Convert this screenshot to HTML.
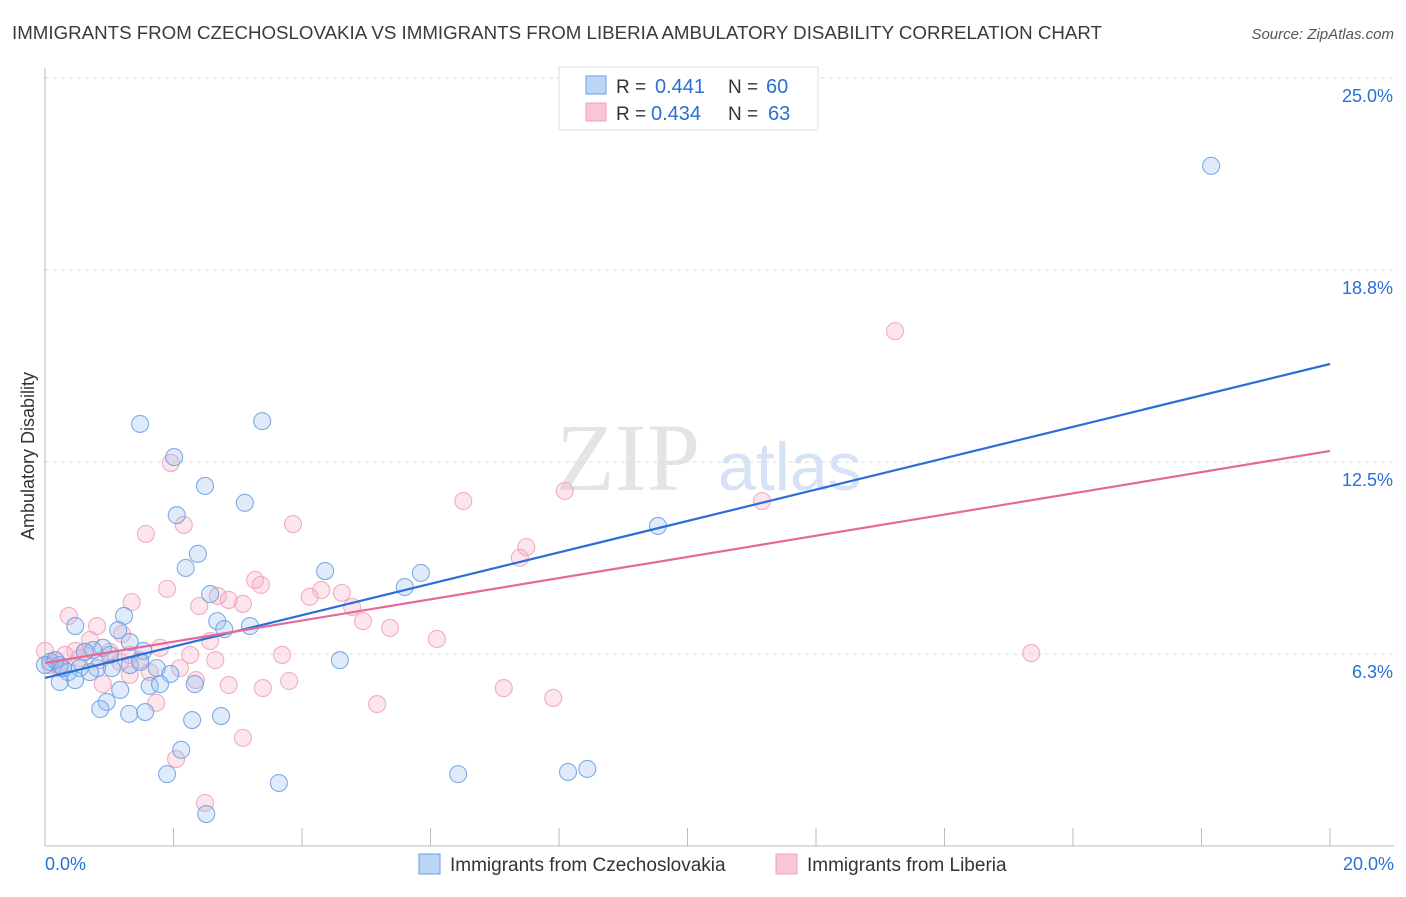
<!DOCTYPE html>
<html><head><meta charset="utf-8"><style>
body{margin:0;background:#fff;font-family:"Liberation Sans",sans-serif}
</style></head><body>
<svg id="chart" width="1406" height="892" xmlns="http://www.w3.org/2000/svg" font-family="Liberation Sans, sans-serif">
<text x="12" y="39" font-size="18" fill="#3a3a3a" textLength="1090" lengthAdjust="spacingAndGlyphs">IMMIGRANTS FROM CZECHOSLOVAKIA VS IMMIGRANTS FROM LIBERIA AMBULATORY DISABILITY CORRELATION CHART</text>
<text x="1394" y="39" font-size="15" fill="#555" text-anchor="end" font-style="italic">Source: ZipAtlas.com</text>
<g><text x="556" y="490" font-size="96" font-family="Liberation Serif, serif" fill="#e4e4e4">ZIP</text><text x="718" y="490" font-size="68" fill="#d5e3f5">atlas</text></g>
<g id="grid"></g>
<g id="axes"></g>
<g id="pts"></g>
<g id="lines"></g>
<text transform="translate(34,456) rotate(-90)" font-size="18" fill="#333" text-anchor="middle">Ambulatory Disability</text>
<g>
<rect x="559" y="67" width="259" height="63" fill="#fff" stroke="#ddd"/>
<rect x="586" y="76" width="20" height="18" fill="#bcd4f5" stroke="#6b9ee0"/>
<rect x="586" y="103" width="20" height="18" fill="#f9c6d6" stroke="#f0a0b8"/>
<text x="616" y="93" font-size="19" fill="#333">R =</text><text x="655" y="93" font-size="20" fill="#2a6fd6">0.441</text><text x="728" y="93" font-size="19" fill="#333">N =</text><text x="766" y="93" font-size="20" fill="#2a6fd6">60</text>
<text x="616" y="120" font-size="19" fill="#333">R =</text><text x="651" y="120" font-size="20" fill="#2a6fd6">0.434</text><text x="728" y="120" font-size="19" fill="#333">N =</text><text x="768" y="120" font-size="20" fill="#2a6fd6">63</text>
</g>
<g>
<rect x="419" y="854" width="21" height="20" fill="#bcd4f5" stroke="#6b9ee0"/>
<text x="450" y="871" font-size="19" fill="#333">Immigrants from Czechoslovakia</text>
<rect x="776" y="854" width="21" height="20" fill="#f9c6d6" stroke="#f0a0b8"/>
<text x="807" y="871" font-size="19" fill="#333">Immigrants from Liberia</text>
</g>
</svg>
<script>
const yTicks=[6.25,12.5,18.75,25];
const yTickLabels=["6.3%","12.5%","18.8%","25.0%"];
const xTickLabels=["0.0%","20.0%"];
const blueX=[1.48,3.38,2.01,2.49,3.11,2.05,9.54,2.38,2.19,4.36,5.85,5.60,2.57,1.23,2.68,0.47,2.79,3.19,1.14,1.32,0.90,0.75,1.53,1.01,4.59,0.08,0.23,0.54,0.81,1.04,1.32,1.74,1.95,0.36,0.47,0.23,2.33,1.63,1.79,1.17,0.96,0.86,1.31,1.56,2.29,2.74,2.12,1.90,6.43,8.14,8.44,3.64,2.51,18.15,0.16,0.0,0.62,1.48,0.28,0.70];
const blueY=[13.74,13.83,12.66,11.72,11.17,10.77,10.42,9.51,9.05,8.95,8.89,8.43,8.20,7.49,7.32,7.16,7.06,7.16,7.03,6.64,6.45,6.38,6.35,6.22,6.05,5.99,5.89,5.79,5.79,5.79,5.89,5.79,5.60,5.66,5.40,5.34,5.27,5.21,5.27,5.08,4.69,4.46,4.30,4.36,4.10,4.23,3.13,2.34,2.34,2.41,2.51,2.05,1.04,22.14,6.05,5.89,6.32,5.99,5.79,5.66];
const pinkX=[13.23,1.96,6.51,8.09,11.16,2.16,1.57,3.86,7.49,7.39,1.90,3.27,3.36,1.35,2.40,2.69,2.86,3.08,4.12,4.30,4.62,4.78,4.95,0.37,0.81,5.37,6.10,1.20,2.57,3.69,15.35,0.47,0.62,1.01,1.79,2.26,1.48,0.86,1.32,1.63,2.35,2.86,3.39,3.80,0.90,0.0,0.16,0.31,7.14,7.91,5.17,1.73,3.08,2.04,2.49,0.23,0.54,1.17,2.10,0.70,0.08,1.32,2.65];
const pinkY=[16.76,12.47,11.23,11.56,11.23,10.45,10.16,10.48,9.73,9.38,8.37,8.66,8.50,7.94,7.81,8.14,8.01,7.88,8.11,8.33,8.24,7.78,7.32,7.49,7.16,7.10,6.74,6.90,6.67,6.22,6.28,6.35,6.32,6.32,6.45,6.22,6.05,6.05,5.57,5.66,5.40,5.24,5.14,5.37,5.27,6.35,6.05,6.22,5.14,4.82,4.62,4.66,3.52,2.83,1.40,5.79,6.12,5.99,5.79,6.71,5.89,6.22,6.05];
const blueLine=[5.47,15.69];
const pinkLine=[5.96,12.86];
const NS="http://www.w3.org/2000/svg";
const X0=45,X1=1330,Y0=846,YPX=30.72;
function xs(v){return X0+v/20*(X1-X0);}
function ys(v){return Y0-v*YPX;}
function mk(tag,attrs,parent){const e=document.createElementNS(NS,tag);for(const k in attrs)e.setAttribute(k,attrs[k]);parent.appendChild(e);return e;}
const grid=document.getElementById('grid'),axes=document.getElementById('axes'),pts=document.getElementById('pts'),lines=document.getElementById('lines');
yTicks.forEach((t,i)=>{
 const l=mk('line',{x1:X0,x2:1394,y1:ys(t),y2:ys(t),stroke:'#ddd','stroke-dasharray':'4,4'},grid);
 
 
 const tx=mk('text',{x:1393,y:ys(t)+24,'font-size':18,fill:'#2a6fd6','text-anchor':'end'},axes);
 tx.textContent=yTickLabels[i];
 
 
});
const la=mk('line',{x1:X0,x2:X0,y1:68,y2:Y0,stroke:'#bbb'},axes);


const lb=mk('line',{x1:X0,x2:1394,y1:Y0,y2:Y0,stroke:'#bbb'},axes);


for(let i=0;i<=10;i++){
 const t=mk('line',{x1:xs(i*2),x2:xs(i*2),y1:828,y2:Y0,stroke:'#bbb'},axes);
 
 
}
[[0,'start',45],[20,'end',1394]].forEach((d,i)=>{
 const tx=mk('text',{x:d[2],y:870,'font-size':18,fill:'#2a6fd6','text-anchor':d[1]},axes);
 tx.textContent=xTickLabels[i];
 
 
});
function dots(X,Y,fill,stroke,name){
 X.forEach((x,i)=>{
  const c=mk('circle',{cx:xs(x),cy:ys(Y[i]),r:8.5,fill:fill,stroke:stroke,'stroke-width':1.1,'stroke-opacity':0.85},pts);
  
  
 });
}
dots(pinkX,pinkY,'rgba(246,170,195,0.3)','#f0a0b8','liberia-point');
dots(blueX,blueY,'rgba(150,190,240,0.3)','#6b9ee0','czechoslovakia-point');
const b=mk('line',{x1:xs(0),y1:ys(blueLine[0]),x2:xs(20),y2:ys(blueLine[1]),stroke:'#2a6fd6','stroke-width':2.2},lines);


const p=mk('line',{x1:xs(0),y1:ys(pinkLine[0]),x2:xs(20),y2:ys(pinkLine[1]),stroke:'#e8679a','stroke-width':2.2},lines);


</script>
</body></html>
